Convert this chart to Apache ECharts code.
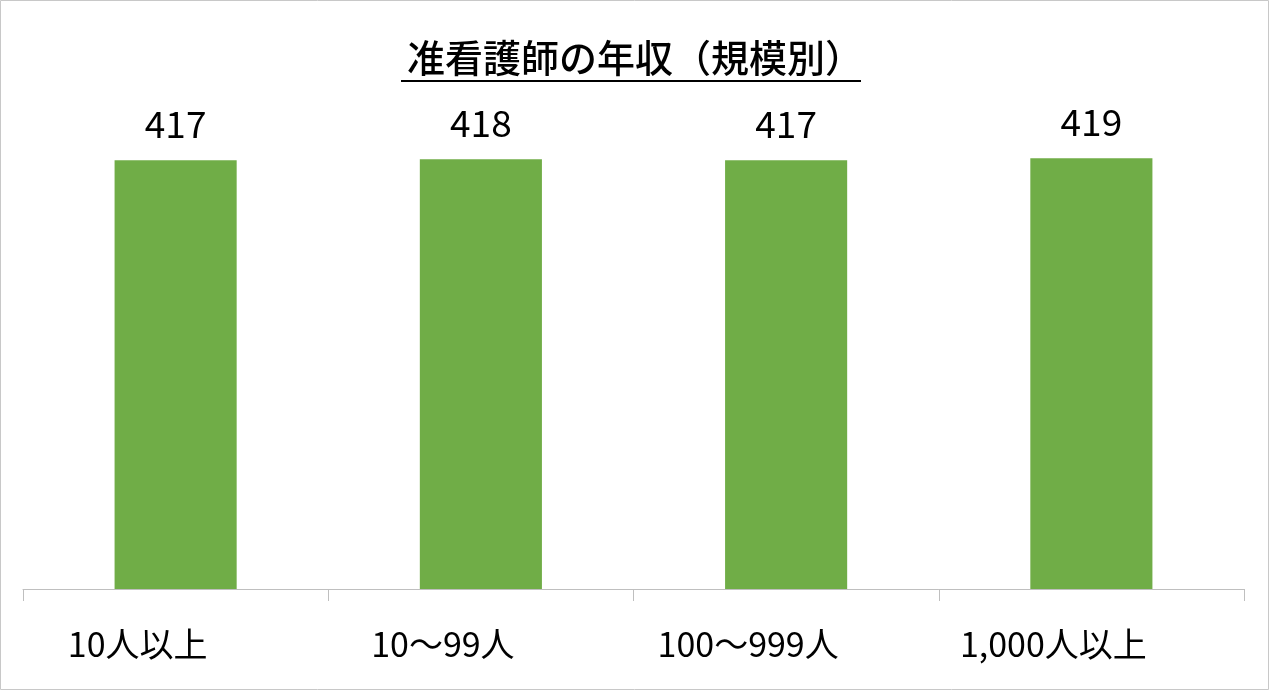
<!DOCTYPE html>
<html><head><meta charset="utf-8">
<script src="https://cdn.jsdelivr.net/npm/echarts@6/dist/echarts.min.js"></script>
<style>html,body{margin:0;padding:0;background:#fff;}#c{width:1270px;height:691px;}</style>
</head><body><div id="c"></div>
<script>
const categories = ['10人以上', '10～99人', '100～999人', '1,000人以上'];
const salaries = [417, 418, 417, 419];
const titleText = '准看護師の年収（規模別）';
const font = '"Noto Sans CJK JP", "Noto Sans", sans-serif';

const chart = echarts.init(document.getElementById('c'));
chart.setOption({
  backgroundColor: '#fff',
  animation: false,
  title: {
    text: titleText, left: 'center', top: 34,
    textStyle: { fontFamily: font, fontSize: 38, fontWeight: 500, color: '#000' }
  },
  graphic: [
    { type: 'rect', shape: { x: 0.5, y: 0.5, width: 1268, height: 689 }, style: { fill: 'none', stroke: '#c8c8c8', lineWidth: 1 }, silent: true },
    { type: 'line', shape: { x1: 401, y1: 81, x2: 861, y2: 81 }, style: { stroke: '#000', lineWidth: 2 }, silent: true }
  ],
  grid: { left: 23, right: 26, top: 75, bottom: 102 },
  xAxis: {
    type: 'category', data: categories,
    axisLine: { show: true, lineStyle: { color: '#bfbfbf', width: 1 } },
    axisTick: { show: true, length: 12, alignWithLabel: false, lineStyle: { color: '#bfbfbf', width: 1 } },
    axisLabel: { margin: 38, fontFamily: font, fontSize: 34, color: '#000', padding: [0, 76, 0, 0] }
  },
  yAxis: { type: 'value', min: 0, max: 500, show: false, splitLine: { show: false } },
  series: [{
    type: 'bar', data: salaries, barWidth: '40%',
    itemStyle: { color: '#70ad47' },
    label: { show: true, position: 'top', distance: 18, fontFamily: font, fontSize: 37, color: '#000' }
  }]
});
</script></body></html>
